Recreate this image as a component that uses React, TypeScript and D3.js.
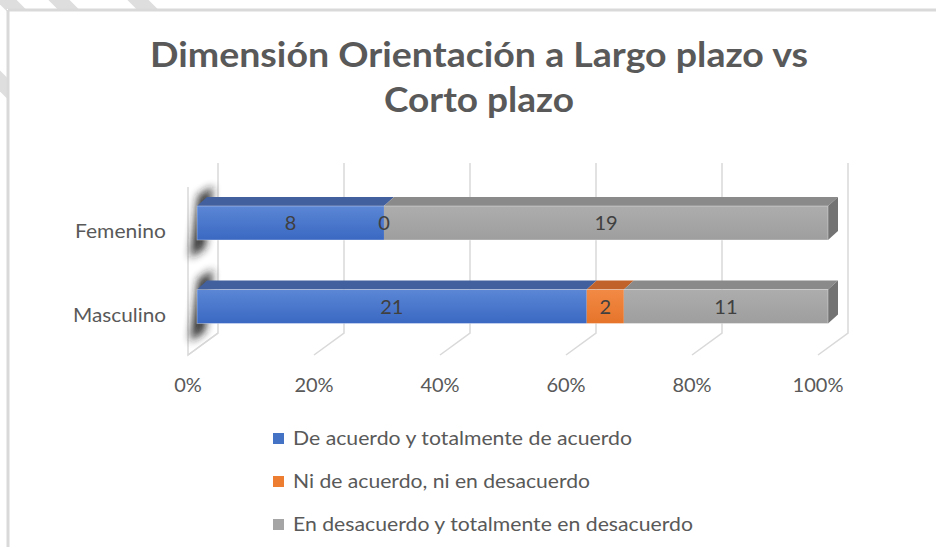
import React from "react";
import * as d3 from "d3";

const categories = ["Femenino", "Masculino"];
const seriesNames = [
  "De acuerdo y totalmente de acuerdo",
  "Ni de acuerdo, ni en desacuerdo",
  "En desacuerdo y totalmente en desacuerdo",
];
const acuerdo = [8, 21];
const neutral = [0, 2];
const desacuerdo = [19, 11];
const tickValues = [0, 0.2, 0.4, 0.6, 0.8, 1];
const titleLines = ["Dimensión Orientación a Largo plazo vs", "Corto plazo"];

const colors = ["#4472C4", "#ED7D31", "#A5A5A5"];
const topColors = ["#43609E", "#C0622A", "#8A8A8A"];
const gradTop = ["#5C87D6", "#F28A45", "#ADADAD"];
const gradBot = ["#3A68C2", "#E6742A", "#9E9E9E"];

const W = 936;
const H = 547;
const DX = 10; // bar depth offset
const DY = -9;
const FX = 30; // floor depth offset
const FY = -22;
const BAR_H = 34;
const FONT = "Lato, 'Open Sans', sans-serif";
const titleWidths = [658, 190];
const legendWidths = [339, 297, 400];
const catWidths = [91, 93];

export default function App() {
  const rows = categories.map((c, i) => ({
    cat: c,
    s0: acuerdo[i],
    s1: neutral[i],
    s2: desacuerdo[i],
  }));
  const stack = d3
    .stack<any>()
    .keys(["s0", "s1", "s2"])
    .offset(d3.stackOffsetExpand);
  const stacked = stack(rows);

  const xFloor = d3.scaleLinear().domain([0, 1]).range([188, 818]);
  const xBar = d3.scaleLinear().domain([0, 1]).range([197, 828]);
  const yC = d3.scalePoint<string>().domain(categories).range([223, 306.5]);

  const floorFrontY = 355;
  const wallTop = 163;

  const stripes = [6, 59, 138, -81];

  return (
    <svg
      width={W}
      height={H}
      style={{ position: "absolute", left: 0, top: 0, display: "block" }}
      fontFamily={FONT}
    >
      <defs>
        <clipPath id="outside">
          <path d={`M0,0H${W}V9H7V${H}H0Z`} />
        </clipPath>
        <filter id="blur" x="-150%" y="-50%" width="400%" height="200%">
          <feGaussianBlur stdDeviation="4" />
        </filter>
        {colors.map((c, i) => (
          <linearGradient key={i} id={`g${i}`} x1="0" y1="0" x2="0" y2="1">
            <stop offset="0%" stopColor={gradTop[i]} />
            <stop offset="100%" stopColor={gradBot[i]} />
          </linearGradient>
        ))}
      </defs>
      <rect width={W} height={H} fill="#fff" />
      {/* stripes outside frame */}
      <g clipPath="url(#outside)">
        {stripes.map((c, i) => (
          <line
            key={i}
            x1={c - 40}
            y1={-40}
            x2={c + 120}
            y2={120}
            stroke="#DEDEDE"
            strokeWidth={15}
          />
        ))}
      </g>
      {/* frame */}
      <line x1={8} y1={10} x2={W} y2={10} stroke="#D9D9D9" strokeWidth={3} />
      <line x1={8} y1={10} x2={8} y2={H} stroke="#D9D9D9" strokeWidth={3} />

      {/* title */}
      {titleLines.map((t, i) => (
        <text
          key={i}
          x={479}
          y={67 + i * 45}
          textAnchor="middle"
          fontSize={34}
          fontWeight="bold"
          fill="#595959"
          textLength={titleWidths[i]}
          lengthAdjust="spacingAndGlyphs"
        >
          {t}
        </text>
      ))}

      {/* walls & gridlines */}
      <g stroke="#D9D9D9" strokeWidth={1.5} fill="none">
        <path
          d={`M${xFloor(0)},${floorFrontY - 168}V${floorFrontY}L${xFloor(0) + FX},${floorFrontY + FY}`}
        />
        {tickValues.map((t) => (
          <path
            key={t}
            d={`M${xFloor(t) + FX},${wallTop}V${floorFrontY + FY}L${xFloor(t)},${floorFrontY}`}
          />
        ))}
      </g>

      {/* shadows */}
      {categories.map((c) => {
        const yt = (yC(c) as number) - BAR_H / 2;
        const yb = yt + BAR_H;
        return (
          <polygon
            key={c}
            points={`190,${yb + 18} 205,${yb + 8} 213,${yt - 20} 198,${yt - 10}`}
            fill="#1a1a1a"
            opacity={0.9}
            filter="url(#blur)"
          />
        );
      })}

      {/* bars */}
      {categories.map((c, ci) => {
        const yt = (yC(c) as number) - BAR_H / 2;
        const yb = yt + BAR_H;
        const faces: any[] = [];
        stacked.forEach((s, si) => {
          const d = s[ci];
          const x0 = xBar(d[0]);
          const x1 = xBar(d[1]);
          if (x1 - x0 <= 0) return;
          faces.push(
            <rect
              key={`f${si}`}
              x={x0}
              y={yt}
              width={x1 - x0}
              height={BAR_H}
              fill={`url(#g${si})`}
            />
          );
          faces.push(
            <polygon
              key={`t${si}`}
              points={`${x0},${yt} ${x1},${yt} ${x1 + DX},${yt + DY} ${x0 + DX},${yt + DY}`}
              fill={topColors[si]}
            />
          );
        });
        const xe = xBar(1);
        faces.push(
          <polygon
            key="side"
            points={`${xe},${yt} ${xe + DX},${yt + DY} ${xe + DX},${yb + DY} ${xe},${yb}`}
            fill="#737373"
          />
        );
        return (
          <g key={c}>
            {faces}
            <rect
              x={xBar(0)}
              y={yt}
              width={xe - xBar(0)}
              height={BAR_H}
              fill="none"
              stroke="#ffffff"
              strokeOpacity={0.35}
              strokeWidth={1}
            />
          </g>
        );
      })}

      {/* data labels */}
      {categories.map((c, ci) =>
        stacked.map((s, si) => {
          const d = s[ci];
          const val = [acuerdo, neutral, desacuerdo][si][ci];
          const xm = (xBar(d[0]) + xBar(d[1])) / 2;
          return (
            <text
              key={`${c}${si}`}
              x={xm}
              y={(yC(c) as number) + 7}
              textAnchor="middle"
              fontSize={20}
              fill="#404040"
            >
              {val}
            </text>
          );
        })
      )}

      {/* category labels */}
      {categories.map((c, i) => (
        <text
          key={c}
          x={166}
          y={(yC(c) as number) + 15}
          textAnchor="end"
          fontSize={20}
          fill="#595959"
          textLength={catWidths[i]}
          lengthAdjust="spacingAndGlyphs"
        >
          {c}
        </text>
      ))}

      {/* x tick labels */}
      {tickValues.map((t) => (
        <text
          key={t}
          x={xFloor(t)}
          y={392}
          textAnchor="middle"
          fontSize={20}
          fill="#595959"
        >
          {d3.format(".0%")(t)}
        </text>
      ))}

      {/* legend */}
      {seriesNames.map((n, i) => (
        <g key={n}>
          <rect x={273} y={433 + i * 43} width={11} height={11} fill={colors[i]} />
          <text
            x={293}
            y={445 + i * 43}
            fontSize={20}
            fill="#595959"
            textLength={legendWidths[i]}
            lengthAdjust="spacingAndGlyphs"
          >
            {n}
          </text>
        </g>
      ))}
    </svg>
  );
}
